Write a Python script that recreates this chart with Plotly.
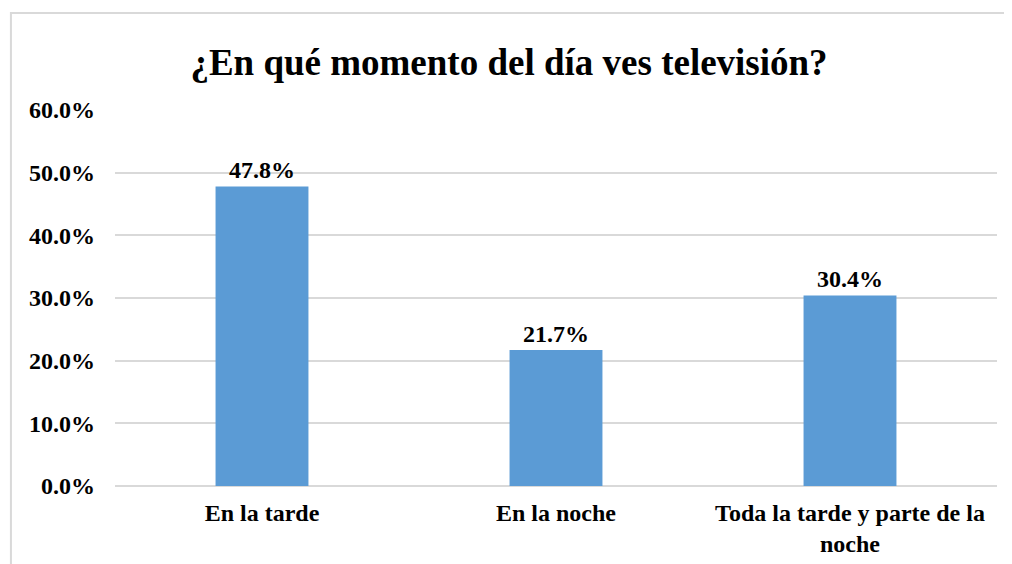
"""Bar chart: at what time of day do you watch television."""

import plotly.graph_objects as go

categories = ["En la tarde", "En la noche", "Toda la tarde y parte de la<br>noche"]
percentages = [47.8, 21.7, 30.4]

FONT = "Liberation Serif, Times New Roman, serif"
BAR_COLOR = "#5b9bd5"
GRID_COLOR = "#d9d9d9"

# the page body has an 8px margin, so the figure is drawn 8px smaller
W, H = 1004, 556

fig = go.Figure()

fig.add_trace(
    go.Bar(
        x=categories,
        y=percentages,
        marker=dict(color=BAR_COLOR, line_width=0),
        texttemplate="<b>%{y:.1f}%</b>",
        textposition="outside",
        textfont=dict(family=FONT, size=24, color="black"),
        cliponaxis=False,
        showlegend=False,
    )
)

# Light chart-area border (runs off the right and bottom edges)
fig.add_shape(
    type="rect",
    xref="paper", yref="paper",
    x0=-0.118, x1=1.03,
    y0=-0.3, y1=1.258,
    line=dict(color=GRID_COLOR, width=2),
    fillcolor="rgba(0,0,0,0)",
    layer="below",
)

fig.update_layout(
    width=W,
    height=H,
    margin=dict(l=107, r=15, t=102, b=78),
    paper_bgcolor="white",
    plot_bgcolor="white",
    font=dict(family=FONT, size=24, color="black"),
    bargap=0.684,
    title=dict(
        text="<b>¿En qué momento del día ves televisión?</b>",
        font=dict(family=FONT, size=37, color="black"),
        x=(509 - 8) / W, xanchor="center",
        y=1 - (62 - 8) / H, yanchor="middle",
        yref="container",
    ),
    xaxis=dict(
        showgrid=False,
        showline=False,
        ticks="",
        tickprefix="<b>",
        ticksuffix="</b>",
        ticklabelstandoff=10,
        automargin=False,
        tickfont=dict(family=FONT, size=24, color="black"),
    ),
    yaxis=dict(
        range=[0, 60],
        dtick=10,
        tickformat=".1f",
        tickprefix="<b>",
        ticksuffix="%</b>",
        showgrid=True,
        gridcolor=GRID_COLOR,
        gridwidth=1.5,
        zeroline=True,
        zerolinecolor=GRID_COLOR,
        zerolinewidth=1.5,
        showline=False,
        ticks="",
        ticklabelstandoff=19,
        automargin=False,
        tickfont=dict(family=FONT, size=24, color="black"),
    ),
)

fig.write_html("out.html")
